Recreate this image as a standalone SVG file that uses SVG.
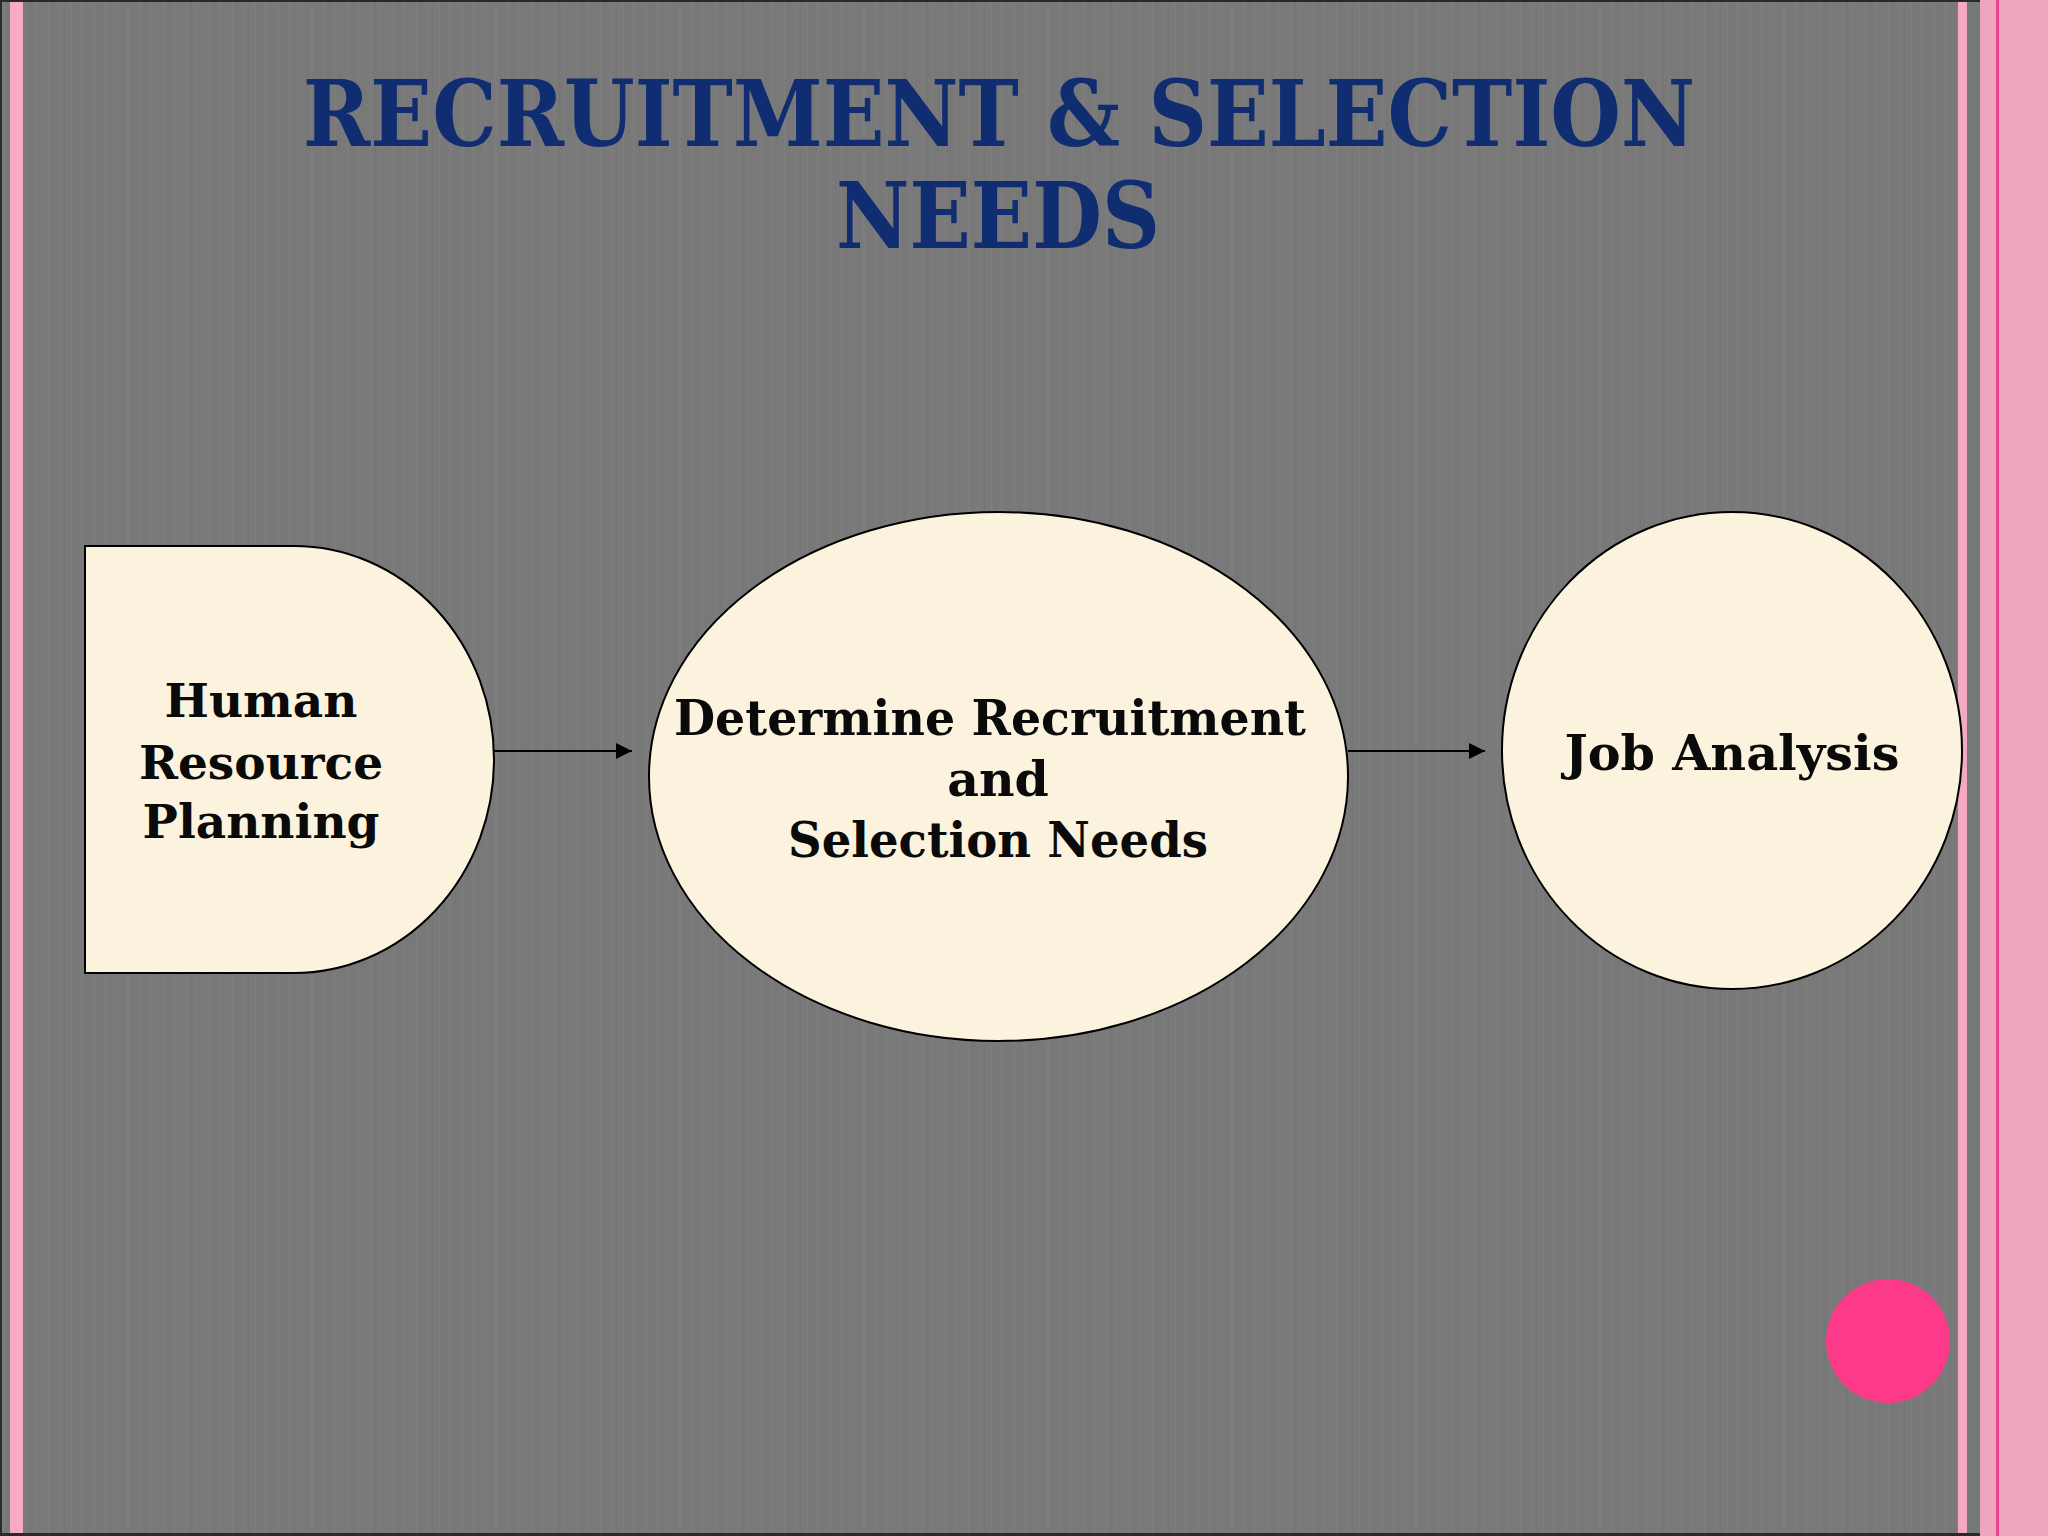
<svg xmlns="http://www.w3.org/2000/svg" width="2048" height="1536" viewBox="0 0 2048 1536">
  <defs>
    <pattern id="stripes" x="0" y="0" width="23" height="1536" patternUnits="userSpaceOnUse">
      <rect width="23" height="1536" fill="#797979"/>
      <rect x="2" width="1" height="1536" fill="#7f7f7f"/>
      <rect x="7" width="1" height="1536" fill="#757575"/>
      <rect x="12" width="2" height="1536" fill="#7c7c7c"/>
      <rect x="18" width="1" height="1536" fill="#767676"/>
    </pattern>
    <marker id="arrow" viewBox="0 0 10 10" refX="10" refY="5" markerWidth="16" markerHeight="16" markerUnits="userSpaceOnUse" orient="auto">
      <path d="M0,0 L10,5 L0,10 z" fill="#000"/>
    </marker>
    <style>
      .node { fill: #fcf3df; stroke: #000; stroke-width: 2; }
      .label { font-family: "DejaVu Serif", "Liberation Serif", serif; font-weight: bold; fill: #0a0a0a; text-anchor: middle; }
      .title { font-family: "DejaVu Serif", "Liberation Serif", serif; font-weight: bold; fill: #0f2d70; text-anchor: middle; }
      .conn { stroke: #000; stroke-width: 2; fill: none; marker-end: url(#arrow); }
    </style>
  </defs>

  <!-- background -->
  <rect width="2048" height="1536" fill="#efa7c0"/>
  <rect x="0" y="0" width="1958" height="1536" fill="url(#stripes)"/>
  <rect x="1967" y="0" width="13" height="1536" fill="#767876"/>
  <rect x="10" y="0" width="13" height="1536" fill="#f8a9c4"/>
  <rect x="1958" y="0" width="9" height="1536" fill="#f3a9c3"/>
  <rect x="1980" y="0" width="16" height="1536" fill="#eea6bf"/>
  <rect x="1996" y="0" width="3" height="1536" fill="#f0418c"/>
  <rect x="1999" y="0" width="17" height="1536" fill="#eea6bf"/>
  <rect x="2016" y="0" width="32" height="1536" fill="#eca5bd"/>
  <rect x="0" y="0" width="2" height="1536" fill="#2a2a2a"/>
  <rect x="0" y="0" width="1980" height="2" fill="#2a2a2a"/>
  <rect x="0" y="1533" width="1980" height="3" fill="#2a2a2a"/>

  <!-- title -->
  <g id="title">
    <text class="title" x="999" y="146" font-size="92" textLength="1392" lengthAdjust="spacingAndGlyphs">RECRUITMENT &amp; SELECTION</text>
    <text class="title" x="998" y="248" font-size="92" textLength="324" lengthAdjust="spacingAndGlyphs">NEEDS</text>
  </g>

  <!-- connectors -->
  <g id="connectors">
    <line class="conn" x1="494" y1="751" x2="632" y2="751"/>
    <line class="conn" x1="1348" y1="751" x2="1485" y2="751"/>
  </g>

  <!-- nodes -->
  <g id="node-hrp">
    <path class="node" d="M85,546 L294,546 A200,213.5 0 0 1 294,973 L85,973 Z"/>
    <text class="label" x="261" y="717" font-size="47">Human</text>
    <text class="label" x="261" y="779" font-size="47">Resource</text>
    <text class="label" x="261" y="838" font-size="47">Planning</text>
  </g>

  <g id="node-determine">
    <ellipse class="node" cx="998.5" cy="776.5" rx="349.5" ry="264.5"/>
    <text class="label" x="990" y="735" font-size="49" textLength="632" lengthAdjust="spacingAndGlyphs">Determine Recruitment</text>
    <text class="label" x="998" y="796" font-size="49">and</text>
    <text class="label" x="998" y="857" font-size="49" textLength="420" lengthAdjust="spacingAndGlyphs">Selection Needs</text>
  </g>

  <g id="node-job">
    <ellipse class="node" cx="1732" cy="750.5" rx="230" ry="238.5"/>
    <text class="label" x="1732" y="770" font-size="49" textLength="335" lengthAdjust="spacingAndGlyphs">Job Analysis</text>
  </g>

  <!-- decorative dot -->
  <circle cx="1888" cy="1341" r="62" fill="#fd3a8a"/>
</svg>
